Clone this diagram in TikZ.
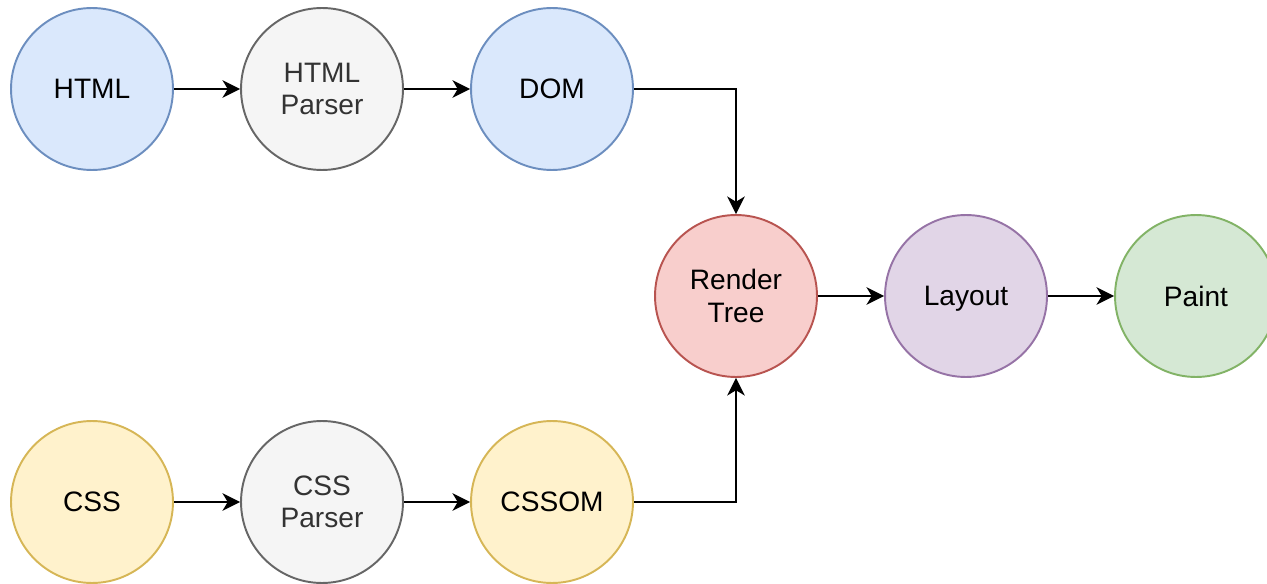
\documentclass[tikz,border=0pt]{standalone}
\usepackage{fontspec}
\setmainfont{Liberation Sans}
\usetikzlibrary{arrows.meta}

\definecolor{blueFill}{HTML}{DAE8FC}
\definecolor{blueLine}{HTML}{6C8EBF}
\definecolor{grayFill}{HTML}{F5F5F5}
\definecolor{grayLine}{HTML}{666666}
\definecolor{grayText}{HTML}{333333}
\definecolor{redFill}{HTML}{F8CECC}
\definecolor{redLine}{HTML}{B85450}
\definecolor{purpleFill}{HTML}{E1D5E7}
\definecolor{purpleLine}{HTML}{9673A6}
\definecolor{greenFill}{HTML}{D5E8D4}
\definecolor{greenLine}{HTML}{82B366}
\definecolor{yellowFill}{HTML}{FFF2CC}
\definecolor{yellowLine}{HTML}{D6B656}

\tikzset{
  stage/.style={circle, minimum size=3.24cm, inner sep=0pt, line width=1.1pt,
    align=center, font=\fontsize{16}{18.5}\selectfont},
  blueStage/.style={stage, draw=blueLine, fill=blueFill},
  grayStage/.style={stage, draw=grayLine, fill=grayFill, text=grayText},
  redStage/.style={stage, draw=redLine, fill=redFill},
  purpleStage/.style={stage, draw=purpleLine, fill=purpleFill},
  greenStage/.style={stage, draw=greenLine, fill=greenFill},
  yellowStage/.style={stage, draw=yellowLine, fill=yellowFill},
  flow/.style={line width=1.2pt, -{Stealth[length=10pt, width=10pt, inset=3pt]}}
}

\begin{document}
\begin{tikzpicture}[x=0.02cm, y=-0.02cm]
  \useasboundingbox (0,0) rectangle (1267,584);
  % HTML branch
  \node[blueStage] (html) at (92,89) {HTML};
  \node[grayStage] (htmlParser) at (322,89) {HTML\\Parser};
  \node[blueStage] (dom) at (552,89) {DOM};
  % CSS branch
  \node[yellowStage] (css) at (92,502) {CSS};
  \node[grayStage] (cssParser) at (322,502) {CSS\\Parser};
  \node[yellowStage] (cssom) at (552,502) {CSSOM};
  % Rendering
  \node[redStage] (render) at (736,296) {Render\\Tree};
  \node[purpleStage, text depth=0pt] (layout) at (966,296) {Layout};
  \node[greenStage] (paint) at (1196,296) {Paint};
  % Connectors
  \draw[flow] (html) -- (htmlParser);
  \draw[flow] (htmlParser) -- (dom);
  \draw[flow] (dom.east) -| (render.north);
  \draw[flow] (css) -- (cssParser);
  \draw[flow] (cssParser) -- (cssom);
  \draw[flow] (cssom.east) -| (render.south);
  \draw[flow] (render) -- (layout);
  \draw[flow] (layout) -- (paint);
\end{tikzpicture}
\end{document}
